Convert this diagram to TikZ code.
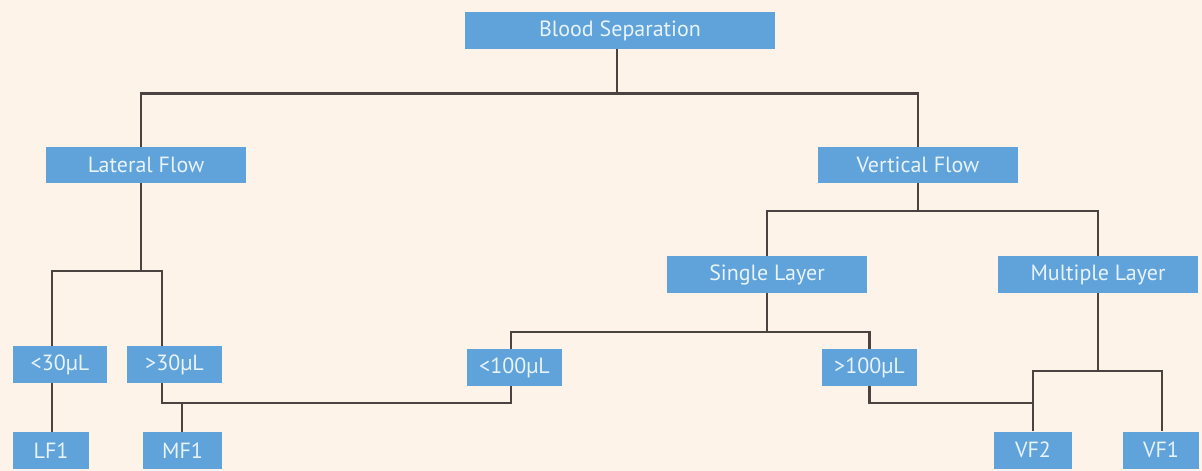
\documentclass[tikz,border=0pt]{standalone}
\usepackage{fontspec}
\setmainfont{PT Sans}
\definecolor{bgc}{HTML}{FDF3E8}
\definecolor{boxc}{HTML}{5FA3DA}
\definecolor{txtc}{HTML}{E8F3FB}
\definecolor{linec}{HTML}{4B4340}
\begin{document}
\begin{tikzpicture}[x=1pt,y=-1pt,
  box/.style={fill=boxc, draw=none, text=txtc, inner sep=0pt, minimum height=37pt,
    font=\fontsize{22}{24}\selectfont, anchor=center},
  conn/.style={draw=linec, line width=2.2pt}]
\fill[bgc] (0,0) rectangle (1202,471);
\useasboundingbox (0,0) rectangle (1202,471);
% nodes
\node[box, minimum width=310pt] (bs) at (620,30.5) {Blood Separation};
\node[box, minimum width=200pt, minimum height=36pt] (lf) at (146,165) {Lateral Flow};
\node[box, minimum width=200pt, minimum height=36pt] (vf) at (918,165) {Vertical Flow};
\node[box, minimum width=200pt] (sl) at (767,274.5) {Single Layer};
\node[box, minimum width=200pt] (ml) at (1098,274.5) {Multiple Layer};
\node[box, minimum width=94pt] (l30) at (60,364.5) {<30µL};
\node[box, minimum width=95pt] (g30) at (174.5,364.5) {>30µL};
\node[box, minimum width=95pt] (l100) at (514.5,367.5) {<100µL};
\node[box, minimum width=95pt] (g100) at (869.5,367.5) {>100µL};
\node[box, minimum width=76pt] (lf1) at (51,450.5) {LF1};
\node[box, minimum width=79pt] (mf1) at (182.5,450.5) {MF1};
\node[box, minimum width=78pt] (vf2) at (1033,450) {VF2};
\node[box, minimum width=76pt] (vf1) at (1161,450) {VF1};
% junctions
\coordinate (j1) at (617,93.5);
\coordinate (j2) at (141,271);
\coordinate (j3) at (918,211);
\coordinate (j4) at (767,332);
\coordinate (j5) at (1098,371);
\coordinate (m6) at (182,403);
\coordinate (k6) at (1033,403);
% connectors
\draw[conn] ([xshift=-3pt]bs.south) -- (j1);
\draw[conn] ([xshift=-5pt]lf.north) |- (j1) -| (vf.north);
\draw[conn] ([xshift=-5pt]lf.south) -- (j2);
\draw[conn] ([xshift=-8pt]l30.north) |- (j2) -| ([xshift=-12.5pt]g30.north);
\draw[conn] ([xshift=-8pt]l30.south) -- ([xshift=1pt]lf1.north);
\draw[conn] ([xshift=-12.5pt]g30.south) |- (m6) -| ([xshift=-3.5pt]l100.south);
\draw[conn] (m6) -- ([xshift=-0.5pt]mf1.north);
\draw[conn] (vf.south) -- (j3);
\draw[conn] (sl.north) |- (j3) -| (ml.north);
\draw[conn] (sl.south) -- (j4);
\draw[conn] ([xshift=-3.5pt]l100.north) |- (j4) -| (g100.north);
\draw[conn] (ml.south) -- (j5);
\draw[conn] (vf2.north) |- (j5) -| ([xshift=1pt]vf1.north);
\draw[conn] (g100.south) |- (k6);
\end{tikzpicture}
\end{document}
